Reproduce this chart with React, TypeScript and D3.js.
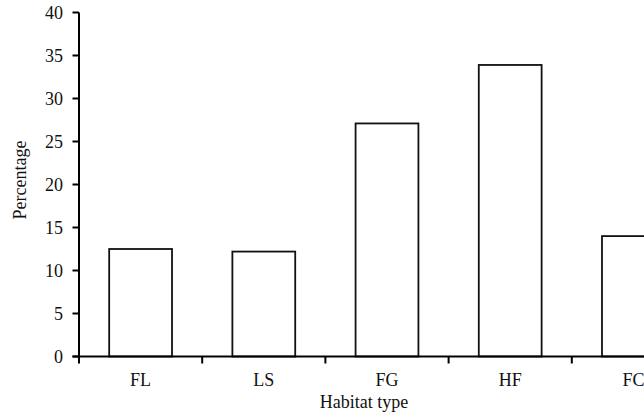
import React from 'react';
import * as d3 from 'd3';

// Habitat categories and percentages
const categories = ['FL', 'LS', 'FG', 'HF', 'FC'];
const percentages = [12.5, 12.2, 27.1, 33.9, 14.0];
const yTicks = [0, 5, 10, 15, 20, 25, 30, 35, 40];

const width = 644;
const height = 417;
const margin = { top: 12.5, left: 79, bottom: 60.5 };
const plotRight = 695; // the last category runs past the page edge

const font = '"Liberation Serif", "Times New Roman", serif';

const App: React.FC = () => {
  const y = d3.scaleLinear().domain([0, 40]).range([height - margin.bottom, margin.top]);

  // category boundaries (ticks sit between categories)
  const xCat = d3.scaleBand<string>().domain(categories).range([margin.left, plotRight]);
  // bars, roughly half of each category slot, centred
  const xBar = d3
    .scaleBand<string>()
    .domain(categories)
    .range([margin.left, plotRight])
    .paddingInner(0.49)
    .paddingOuter(0.245);

  const y0 = y(0);
  const boundaries = categories.map((c) => xCat(c) as number);

  return (
    <div style={{ position: 'fixed', left: 0, top: 0 }}>
      <svg width={width} height={height} style={{ display: 'block', background: '#fff' }}>
        {/* bars */}
        {categories.map((c, i) => (
          <rect
            key={c}
            x={xBar(c)}
            y={y(percentages[i])}
            width={xBar.bandwidth()}
            height={y0 - y(percentages[i])}
            fill="#fff"
            stroke="#111"
            strokeWidth={1.8}
          />
        ))}

        {/* y axis */}
        <line x1={margin.left} x2={margin.left} y1={y(40)} y2={y0} stroke="#000" strokeWidth={2} />
        {yTicks.map((t) => (
          <g key={t}>
            <line x1={margin.left - 6.5} x2={margin.left} y1={y(t)} y2={y(t)} stroke="#000" strokeWidth={2} />
            <text
              x={margin.left - 16}
              y={y(t)}
              dy="0.34em"
              textAnchor="end"
              fontFamily={font}
              fontSize={18}
              fill="#111"
            >
              {t}
            </text>
          </g>
        ))}

        {/* x axis */}
        <line x1={margin.left - 6.5} x2={width} y1={y0} y2={y0} stroke="#000" strokeWidth={2} />
        {boundaries.map((b, i) => (
          <line key={i} x1={b} x2={b} y1={y0} y2={y0 + 7} stroke="#000" strokeWidth={2} />
        ))}
        {categories.map((c) => (
          <text
            key={c}
            x={(xCat(c) as number) + xCat.bandwidth() / 2}
            y={y0 + 29.5}
            textAnchor="middle"
            fontFamily={font}
            fontSize={18}
            fill="#111"
          >
            {c}
          </text>
        ))}

        {/* axis titles */}
        <text x={364} y={y0 + 51} textAnchor="middle" fontFamily={font} fontSize={18} fill="#111">
          Habitat type
        </text>
        <text
          transform="translate(25.5,180) rotate(-90)"
          textAnchor="middle"
          fontFamily={font}
          fontSize={18}
          fill="#111"
        >
          Percentage
        </text>
      </svg>
    </div>
  );
};

export default App;
